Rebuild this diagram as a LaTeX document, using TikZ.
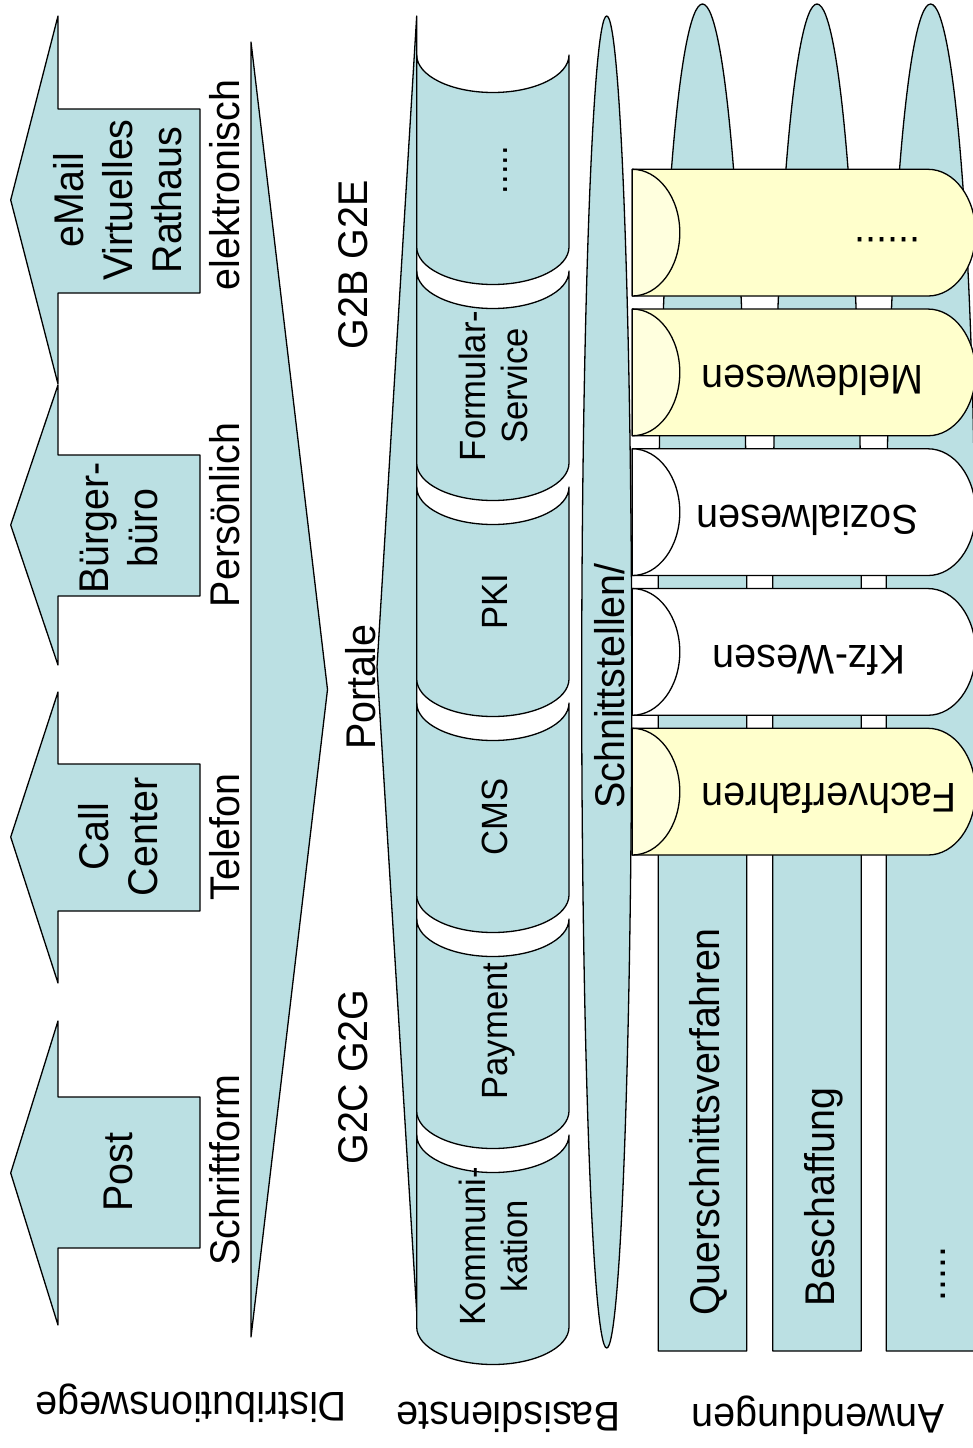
\documentclass[tikz,border=0pt]{standalone}
\usepackage{fontspec}
\setmainfont{Liberation Sans}
\usepackage{graphicx}
\definecolor{paleblue}{RGB}{187,224,227}
\definecolor{paleyellow}{RGB}{255,255,204}
\definecolor{faceyellow}{RGB}{255,255,222}
% slightly condensed lettering
\newcommand{\cond}[1]{\scalebox{0.95}[1]{#1}}
\tikzset{
  shapeline/.style={draw=black, line width=1.3pt, line join=round},
  bluefill/.style={shapeline, fill=paleblue},
  bigtxt/.style={inner sep=0pt, anchor=base, font=\fontsize{41.5}{48}\selectfont},
  smalltxt/.style={inner sep=0pt, anchor=base, font=\fontsize{36.5}{42}\selectfont},
  up/.style={rotate=90},
  flip/.style={rotate=180},
}
\begin{document}
\begin{tikzpicture}[x=1pt,y=-1pt]
\useasboundingbox (0,0) rectangle (973,1448);
\clip (0,0) rectangle (973,1448);

% ---------- Distributionswege: block arrows ----------
\draw[bluefill] (200,109) -- (58,109) -- (58,16) -- (10.7,200) -- (58,384) -- (58,293) -- (200,293) -- cycle;
\draw[bluefill] (200,455) -- (58,455) -- (58,385) -- (10.7,525) -- (58,665) -- (58,596) -- (200,596) -- cycle;
\draw[bluefill] (200,764) -- (58,764) -- (58,692) -- (10.7,837) -- (58,983) -- (58,911) -- (200,911) -- cycle;
\draw[bluefill] (200,1097) -- (58,1097) -- (58,1021) -- (10.7,1173) -- (58,1325) -- (58,1248) -- (200,1248) -- cycle;

\node[bigtxt,up] (email) at (83,200) {\cond{eMail}};
\node[bigtxt,up] (virt) at (132,200) {\cond{Virtuelles}};
\node[bigtxt,up] (rathaus) at (181,200) {\cond{Rathaus}};
\node[bigtxt,up] (buerger) at (108,528) {\cond{Bürger-}};
\node[bigtxt,up] (buero) at (157,528) {\cond{büro}};
\node[bigtxt,up] (call) at (108,837) {\cond{Call}};
\node[bigtxt,up] (center) at (157,837) {\cond{Center}};
\node[bigtxt,up] (post) at (132,1172) {\cond{Post}};

\node[bigtxt,up] (elektr) at (239,185) {\cond{elektronisch}};
\node[bigtxt,up] (persoen) at (239,515) {\cond{Persönlich}};
\node[bigtxt,up] (telefon) at (239,837) {\cond{Telefon}};
\node[bigtxt,up] (schrift) at (239,1170) {\cond{Schriftform}};

% ---------- funnel and portals ----------
\draw[bluefill] (251,42) -- (327.5,689.5) -- (251,1337) -- cycle;
\node[bigtxt,up] (gtbe) at (367,265) {\cond{G2B G2E}};
\node[bigtxt,up] (portale) at (375,687) {\cond{Portale}};
\node[bigtxt,up] (gtcg) at (367,1077) {\cond{G2C G2G}};

% ---------- Basisdienste ----------
\draw[bluefill] (416.7,16) -- (377,667) -- (416.7,1312) -- cycle;
\foreach \k in {0,...,5} {
  \pgfmathsetmacro\yt{55+216*\k}
  \pgfmathsetmacro\yb{\yt+192}
  \draw[bluefill] (416.7,\yt) arc[start angle=180,end angle=360,x radius=76.15pt,y radius=37.5pt]
    -- (569,\yb) arc[start angle=0,end angle=-180,x radius=76.15pt,y radius=37.5pt] -- cycle;
}
\node[smalltxt,up] (bdots) at (507,170) {\cond{.....}};
\node[smalltxt,up] (formular) at (485,386) {\cond{Formular-}};
\node[smalltxt,up] (service) at (527,386) {\cond{Service}};
\node[smalltxt,up] (pki) at (507,601.5) {\cond{PKI}};
\node[smalltxt,up] (cms) at (507,816.5) {\cond{CMS}};
\node[smalltxt,up] (payment) at (507,1031) {\cond{Payment}};
\node[smalltxt,up] (kommuni) at (485,1246) {\cond{Kommuni-}};
\node[smalltxt,up] (kation) at (527,1246) {\cond{kation}};

% ---------- Schnittstellen ----------
\draw[bluefill] (606.7,682) ellipse[x radius=25pt, y radius=666pt];
\node[bigtxt,up] (schnitt) at (624,686) {\cond{Schnittstellen/}};

% ---------- Anwendungen: columns ----------
\foreach \cx in {702.5,817,930.6} {
  \draw[bluefill] ({\cx-44.3},1351) -- ({\cx-44.3},580)
    arc[start angle=180,end angle=0,x radius=44.3pt,y radius=576pt] -- ({\cx+44.3},1351) -- cycle;
}
\node[bigtxt,up] (quer) at (719,1122) {\cond{Querschnittsverfahren}};
\node[bigtxt,up] (beschaff) at (834,1197) {\cond{Beschaffung}};
\node[bigtxt,up] (adots) at (945,1274) {\cond{.....}};

% ---------- Anwendungen: lying cylinders ----------
\foreach \k/\fillc/\facec in {0/paleyellow/faceyellow,1/paleyellow/faceyellow,2/white/white,3/white/white,4/paleyellow/faceyellow} {
  \pgfmathsetmacro\yt{169.3+139.75*\k}
  \pgfmathsetmacro\yb{\yt+126.7}
  \draw[shapeline, fill=\fillc] (632.3,\yt) -- (928,\yt)
    arc[start angle=90,end angle=-90,x radius=47.5pt,y radius=63.35pt] -- (632.3,\yb) -- cycle;
  \draw[shapeline, fill=\facec] (632.3,\yt)
    arc[start angle=90,end angle=-90,x radius=47.5pt,y radius=63.35pt] -- cycle;
}
\node[bigtxt,flip] (cdots) at (887.5,237) {\cond{......}};
\node[bigtxt,flip] (melde) at (812.5,365) {\cond{Meldewesen}};
\node[bigtxt,flip] (sozial) at (807.5,505) {\cond{Sozialwesen}};
\node[bigtxt,flip] (kfz) at (809,645) {\cond{Kfz-Wesen}};
\node[bigtxt,flip] (fach) at (829,783) {\cond{Fachverfahren}};

% ---------- layer captions ----------
\node[bigtxt,flip] (distr) at (191,1392) {\cond{Distributionswege}};
\node[bigtxt,flip] (basis) at (508.5,1402) {\cond{Basisdienste}};
\node[bigtxt,flip] (anw) at (818,1404) {\cond{Anwendungen}};
\end{tikzpicture}
\end{document}
